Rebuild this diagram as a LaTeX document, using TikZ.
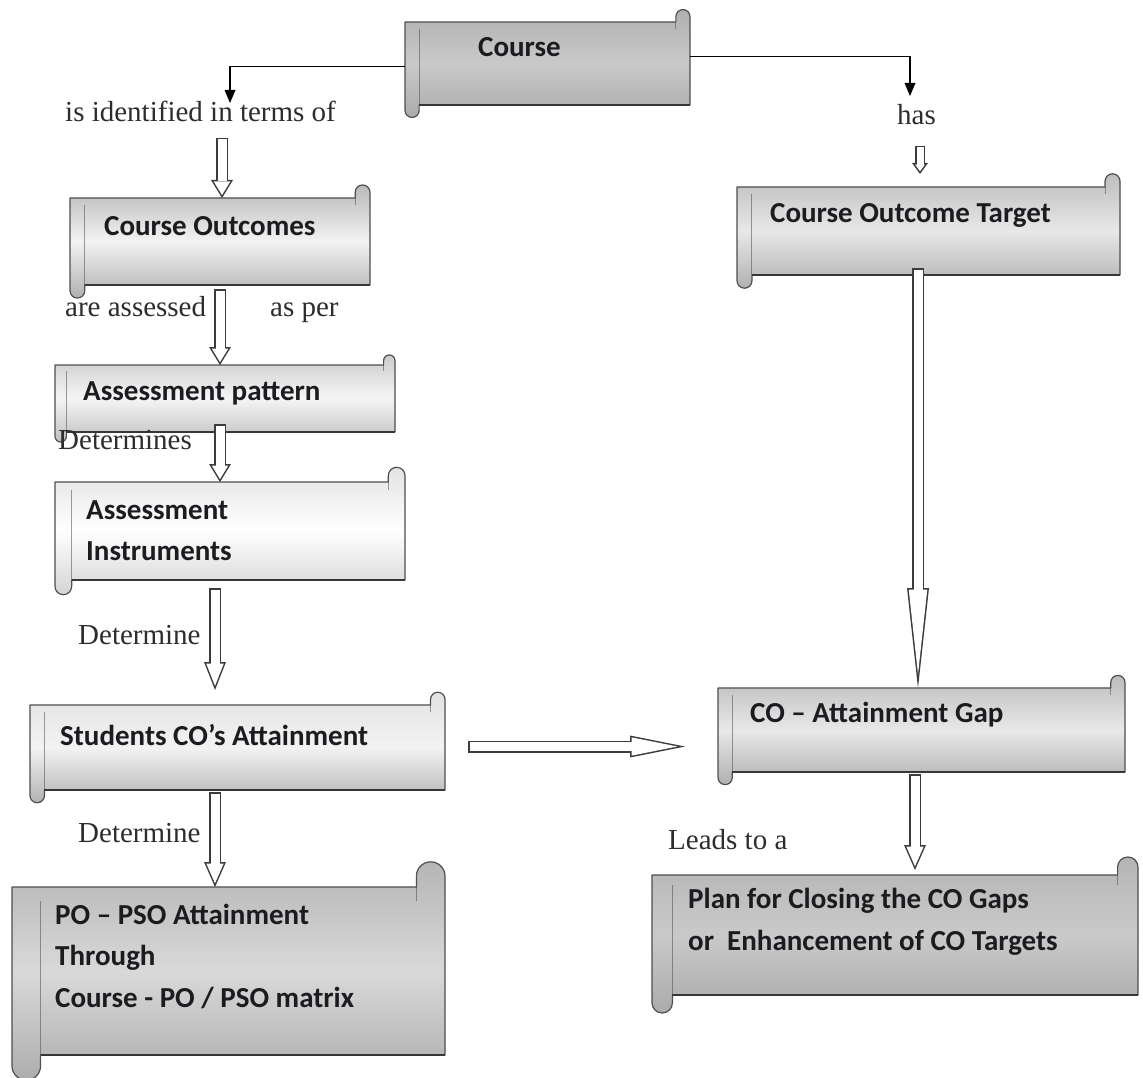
\documentclass[tikz,border=0pt]{standalone}
\usepackage{fontspec}
\setmainfont{Liberation Serif}
\newfontfamily\calibfont{Carlito}
\usetikzlibrary{arrows.meta,calc}

\definecolor{edge}{RGB}{78,78,84}
\definecolor{ink}{RGB}{28,28,32}
\definecolor{lblink}{RGB}{45,45,45}
\definecolor{outline}{RGB}{60,60,60}

\tikzset{
  anchorbox/.style={rectangle, draw=none, inner sep=0pt, outer sep=0pt},
  scrollbody/.style={draw=edge, line width=1.2pt, line join=round},
  curl/.style={draw=edge, line width=1pt, opacity=0.55},
  shadowline/.style={draw=edge!70!black, line width=2.2pt},
  boxtext/.style={font={\calibfont\bfseries\fontsize{29}{41.5}\selectfont}, text=ink,
                  anchor=west, align=left, inner sep=0pt},
  lbl/.style={font={\fontsize{29}{34}\selectfont}, text=lblink, anchor=base west, inner sep=0pt},
  thinarrow/.style={draw=black, line width=1.5pt,
                    -{Triangle[length=13pt,width=11pt,line width=0pt]}},
  % outlined block arrow: dark pass, then a white pass inset by the outline width
  hollow/.style n args={4}{line width=12pt, draw=outline,
      -{Triangle[width=22pt,length=#1pt,line width=0pt]},
      postaction={draw=white, line width=9pt, shorten <=1.5pt, shorten >=#2pt,
        -{Triangle[width=#4pt,length=#3pt,line width=0pt]}}},
  hollowsmall/.style={line width=10pt, draw=outline,
      -{Triangle[width=16pt,length=11pt,line width=0pt]},
      postaction={draw=white, line width=7pt, shorten <=1.5pt, shorten >=2.7pt,
        -{Triangle[width=9.6pt,length=6.6pt,line width=0pt]}}},
  % vertical shadings (middle colour last so it is not reset)
  shA/.style={top color=gray!62, bottom color=gray!66, middle color=gray!42},
  shB/.style={top color=gray!55, bottom color=gray!62, middle color=gray!10},
  shC/.style={top color=gray!40, bottom color=gray!50, middle color=gray!8},
  shD/.style={top color=gray!22, bottom color=gray!34, middle color=white},
  shE/.style={top color=gray!22, bottom color=gray!60, middle color=gray!10},
  shF/.style={top color=gray!58, bottom color=gray!64, middle color=gray!30},
  shG/.style={top color=gray!52, bottom color=gray!62, middle color=gray!18},
  shH/.style={top color=gray!58, bottom color=gray!66, middle color=gray!42},
}

% horizontal scroll box: name, x1, y1, x2, y2, shading style
\newcommand\scrollbox[6]{%
  \pgfmathsetmacro\sbh{(#5)-(#3)}%
  \pgfmathsetmacro\sbr{0.085*\sbh}%
  \pgfmathsetmacro\sbe{0.15*\sbh}%
  \pgfmathsetmacro\sbw{(#4)-(#2)}%
  \node[anchorbox,minimum width=\sbw pt,minimum height=\sbh pt]
    (#1) at ({((#2)+(#4))/2},{((#3)+(#5))/2}) {};
  \path[scrollbody,#6] (#2,#3) -- ({#4-2*\sbr},#3)
    -- ({#4-2*\sbr},{#3-\sbe+\sbr}) arc[start angle=180,end angle=360,radius=\sbr]
    -- (#4,#5) -- ({#2+2*\sbr},#5)
    -- ({#2+2*\sbr},{#5+\sbe-\sbr}) arc[start angle=0,end angle=180,radius=\sbr]
    -- cycle;
  \draw[curl] ({#4-2*\sbr},#3) -- ({#4-2*\sbr},{#3+\sbr});
  \draw[curl] ({#2+2*\sbr},{#3+\sbr}) -- ({#2+2*\sbr},#5);
  \draw[shadowline] ({#2+2*\sbr},#5) -- (#4,#5);
}

\begin{document}
\begin{tikzpicture}[x=1pt,y=-1pt]
\useasboundingbox (0,0) rectangle (1143,1078);
\fill[white] (0,0) rectangle (1143,1078);

% ---------- boxes ----------
\scrollbox{course}{405}{22}{690}{105}{shA}
\scrollbox{co}{70}{198}{370}{285}{shB}
\scrollbox{ap}{55}{365}{395}{432}{shC}
\scrollbox{ai}{55}{482}{405}{580}{shD}
\scrollbox{sca}{30}{705}{445}{790}{shE}
\scrollbox{po}{12}{887}{445}{1055}{shF}
\scrollbox{cot}{737}{187}{1120}{275}{shG}
\scrollbox{gap}{718}{688}{1125}{772}{shG}
\scrollbox{plan}{652}{875}{1138}{995}{shH}

% ---------- box texts ----------
\node[boxtext] (course-t) at (478,47) {Course};
\node[boxtext] (co-t) at (104,226) {Course Outcomes};
\node[boxtext] (ap-t) at (83,393) {Assessment pattern};
\node[boxtext] (ai-t) at (86,530.5) {Assessment\\Instruments};
\node[boxtext] (sca-t) at (60,735) {Students CO’s Attainment};
\node[boxtext] (po-t) at (55,956) {PO – PSO Attainment\\Through\\Course - PO / PSO matrix};
\node[boxtext] (cot-t) at (770,215) {Course Outcome Target};
\node[boxtext] (gap-t) at (750,715) {CO – Attainment Gap};
\node[boxtext] (plan-t) at (688,922) {Plan for Closing the CO Gaps\\or~ Enhancement of CO Targets};

% ---------- connector labels (baselines) ----------
\node[lbl] (l-ident) at (65,122) {is identified in terms of};
\node[lbl] (l-has) at (897,125) {has};
\node[lbl] (l-assessed) at (65,316) {are assessed};
\node[lbl] (l-asper) at (270,316) {as per};
\node[lbl] (l-determines) at (58,449) {Determines};
\node[lbl] (l-det1) at (78,644) {Determine};
\node[lbl] (l-det2) at (78,842) {Determine};
\node[lbl] (l-leads) at (668,849) {Leads to a};

% ---------- connectors ----------
\coordinate (idtip) at (230,103);
\coordinate (hastip) at (910,96);
\draw[thinarrow] ([yshift=-3pt]course.west) -| (idtip);
\draw[thinarrow] ([yshift=7pt]course.east) -| (hastip);

\coordinate (t1) at (222,138);
\draw[hollow={18}{2.9}{13.6}{16.6}] (t1) -- (t1 |- co.north);

\coordinate (t2) at (220,289);
\draw[hollow={18}{2.9}{13.6}{16.6}] (t2) -- (t2 |- ap.north);

\coordinate (t3) at (220,424);
\draw[hollow={18}{2.9}{13.6}{16.6}] (t3) -- (t3 |- ai.north);

\coordinate (t4) at (215,588);
\coordinate (h4) at (215,690);
\draw[hollow={28}{4.1}{22.4}{17.6}] (t4) -- (h4);

\coordinate (t5) at (215,792);
\draw[hollow={25}{3.7}{19.8}{17.4}] (t5) -- (t5 |- po.north);

\coordinate (t6) at (920,146);
\coordinate (h6) at (920,174);
\draw[hollowsmall] (t6) -- (h6);

\coordinate (t7) at (918,268);
\draw[hollow={100}{13.7}{84.8}{18.6}] (t7) -- (t7 |- gap.north);

\coordinate (t8) at (915,774);
\coordinate (h8) at (915,870);
\draw[hollow={25}{3.7}{19.8}{17.4}] (t8) -- (h8);

\draw[hollow={55}{7.65}{45.85}{18.3}] ([xshift=23pt,yshift=1pt]sca.east) -- ([xshift=-33pt,yshift=1pt]gap.west |- sca.east);
\end{tikzpicture}
\end{document}
